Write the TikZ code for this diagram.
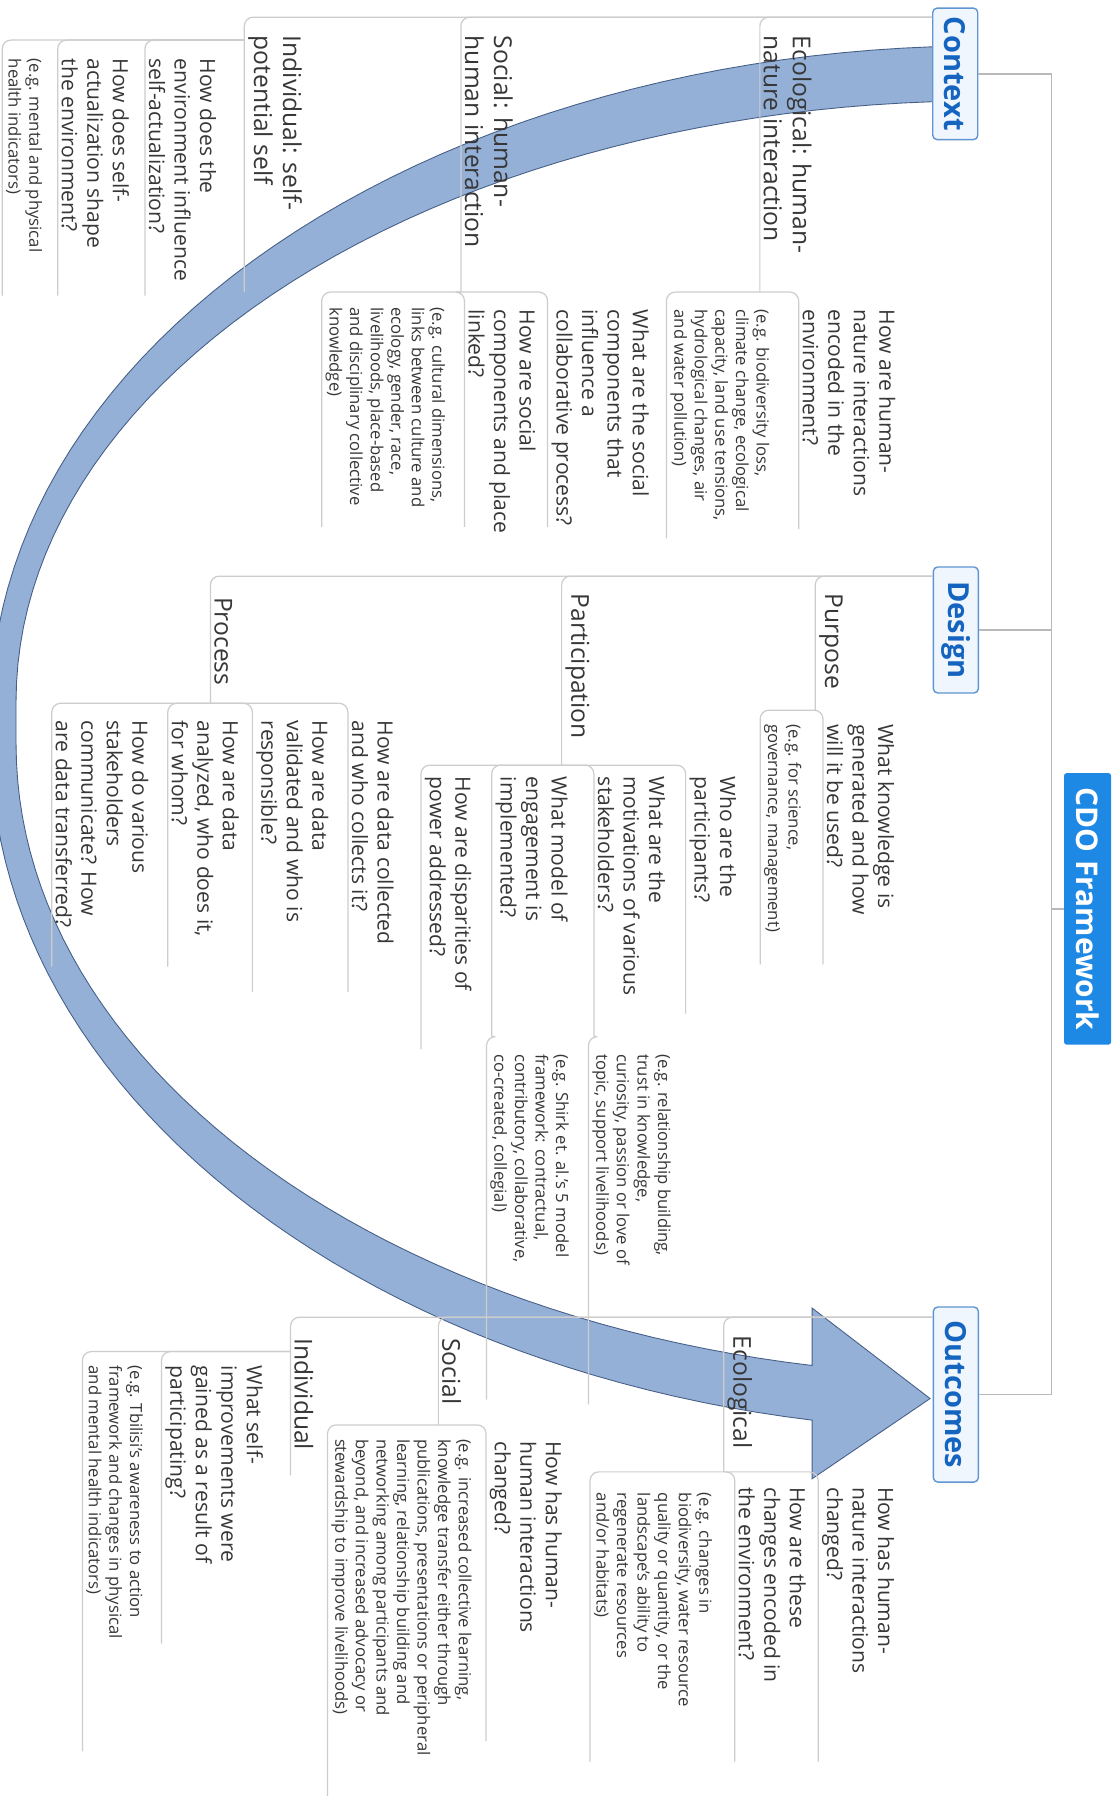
\documentclass[tikz,border=0pt]{standalone}
\usepackage{fontspec}
\setmainfont{Open Sans}
\usetikzlibrary{calc}
\definecolor{cdoblue}{RGB}{30,136,229}
\definecolor{boxline}{RGB}{95,150,210}
\definecolor{boxfill}{RGB}{240,246,253}
\definecolor{titleblue}{RGB}{21,101,192}
\definecolor{branchgray}{RGB}{205,205,205}
\definecolor{trunkgray}{RGB}{185,185,185}
\definecolor{arrowfill}{RGB}{148,176,214}
\definecolor{arrowline}{RGB}{70,95,135}
\definecolor{textgray}{RGB}{55,55,55}
\tikzset{
  topic/.style={rotate=-90, anchor=north west, align=left, inner xsep=0pt, inner ysep=2pt,
    text=textgray, font=\fontsize{14}{16.5}\selectfont},
  quest/.style={topic, font=\fontsize{12}{14.5}\selectfont},
  egtext/.style={topic, font=\fontsize{9.5}{11.7}\selectfont},
  mainbox/.style={rotate=-90, draw=boxline, line width=0.8pt, fill=boxfill, text=titleblue,
    rounded corners=2.5pt, minimum height=0.9cm, inner sep=0pt,
    font=\fontsize{16.5}{19}\selectfont\bfseries},
  rootbox/.style={rotate=-90, fill=cdoblue, text=white, rounded corners=1.5pt,
    minimum width=5.43cm, minimum height=0.94cm, inner sep=0pt,
    font=\fontsize{17}{20}\selectfont\bfseries},
  branch/.style={draw=branchgray, line width=0.7pt, rounded corners=5pt},
  trunk/.style={draw=trunkgray, line width=1pt}
}
\begin{document}
\begin{tikzpicture}[x=0.0229cm, y=-0.0229cm]
\useasboundingbox (0,0) rectangle (977,1568);
\fill[white] (0,0) rectangle (977,1568);
% curved arrow from Context round to Outcomes
\filldraw[fill=arrowfill, draw=arrowline, line width=0.5pt]
  plot[domain=267.03:180, samples=50] ({860+868*cos(\x)}, {620+580*sin(\x)})
  -- plot[domain=180:100.02, samples=50] ({860+868*cos(\x)}, {650+599*sin(\x)})
  -- (709,1291) -- (812,1221) -- (709,1142)
  -- plot[domain=100.28:180, samples=50] ({860+846*cos(\x)}, {650+551*sin(\x)})
  -- plot[domain=180:266.95, samples=50] ({860+846*cos(\x)}, {612+524*sin(\x)})
  -- cycle;

\node[rootbox] (root) at (949.5,793.5) {CDO Framework};
\node[mainbox, minimum width=2.63cm] (ctx) at (834,64.5) {Context};
\node[mainbox, minimum width=2.52cm] (dsg) at (834.5,550) {Design};
\node[mainbox, minimum width=3.5cm] (outc) at (834.5,1217.5) {Outcomes};

% context
\node[topic] (cEco) at (712,31) {Ecological: human-\\nature interaction};
\node[quest] (cEcoQ) at (785,270) {How are human-\\nature interactions\\encoded in the\\environment?};
\node[egtext] (cEcoEg) at (675,270) {(e.g. biodiversity loss,\\climate change, ecological\\capacity, land use tensions,\\hydrological changes, air\\and water pollution)};
\node[topic] (cSoc) at (451,31) {Social: human-\\human interaction};
\node[quest] (cSocQ1) at (570,270) {What are the social\\components that\\influence a\\collaborative process?};
\node[quest] (cSocQ2) at (471,270) {How are social\\components and place\\linked?};
\node[egtext] (cSocEg) at (392,268) {(e.g. cultural dimensions,\\links between culture and\\ecology, gender, race,\\livelihoods, place-based\\and disciplinary collective\\knowledge)};
\node[topic] (cInd) at (267,31) {Individual: self-\\potential self};
\node[quest] (cIndQ1) at (192,51) {How does the\\environment influence\\self-actualization?};
\node[quest] (cIndQ2) at (116,51) {How does self-\\actualization shape\\the environment?};
\node[egtext] (cIndEg) at (40,51) {(e.g. mental and physical\\health indicators)};

% design
\node[topic] (dPur) at (739,518) {Purpose};
\node[quest] (dPurQ) at (784,632) {What knowledge is\\generated and how\\will it be used?};
\node[egtext] (dPurEg) at (703,632) {(e.g. for science,\\governance, management)};
\node[topic] (dPar) at (518,518) {Participation};
\node[quest] (dParQ1) at (646,678) {Who are the\\participants?};
\node[quest] (dParQ2) at (584,678) {What are the\\motivations of various\\stakeholders?};
\node[egtext] (dParQ2Eg) at (589,920) {(e.g. relationship building,\\trust in knowledge,\\curiosity, passion or love of\\topic, support livelihoods)};
\node[quest] (dParQ3) at (499,678) {What model of\\engagement is\\implemented?};
\node[egtext] (dParQ3Eg) at (500,920) {(e.g. Shirk et. al.'s 5 model\\framework: contractual,\\contributory, collaborative,\\co-created, collegial)};
\node[quest] (dParQ4) at (415,678) {How are disparities of\\power addressed?};
\node[topic] (dPro) at (206,521) {Process};
\node[quest] (dProQ1) at (347,629) {How are data collected\\and who collects it?};
\node[quest] (dProQ2) at (290,629) {How are data\\validated and who is\\responsible?};
\node[quest] (dProQ3) at (212,629) {How are data\\analyzed, who does it,\\for whom?};
\node[quest] (dProQ4) at (133,629) {How do various\\stakeholders\\communicate? How\\are data transferred?};

% outcomes
\node[topic] (oEco) at (660,1166) {Ecological};
\node[quest] (oEcoQ1) at (784,1298) {How has human-\\nature interactions\\changed?};
\node[quest] (oEcoQ2) at (707,1298) {How are these\\changes encoded in\\the environment?};
\node[egtext] (oEcoEg) at (625,1303) {(e.g. changes in\\biodiversity, water resource\\quality or quantity, or the\\landscape's ability to\\regenerate resources\\and/or habitats)};
\node[topic] (oSoc) at (406,1168) {Social};
\node[quest] (oSocQ) at (494,1258) {How has human-\\human interactions\\changed?};
\node[egtext] (oSocEg) at (415,1256) {(e.g. increased collective learning,\\knowledge transfer either through\\publications, presentations or peripheral\\learning, relationship building and\\networking among participants and\\beyond, and increased advocacy or\\stewardship to improve livelihoods)};
\node[topic] (oInd) at (277,1168) {Individual};
\node[quest] (oIndQ) at (233,1192) {What self-\\improvements were\\gained as a result of\\participating?};
\node[egtext] (oIndEg) at (128,1192) {(e.g. Tbilisi's awareness to action\\framework and changes in physical\\and mental health indicators)};

% branch points
\coordinate (ctxL) at (ctx.south west |- 0,15);
\coordinate (dsgL) at (dsg.south west |- 0,503);
\coordinate (outL) at (outc.south west |- 0,1150);
\coordinate (cEcoS) at (cEco.south |- 0,255);
\coordinate (cSocS) at (cSoc.south |- 0,255);
\coordinate (cIndS) at (cInd.south |- 0,35);
\coordinate (cIndE) at (cInd.south |- 0,255);
\coordinate (dPurS) at (dPur.south |- 0,620);
\coordinate (dParS) at (dPar.south |- 0,668);
\coordinate (dParQ2S) at (dParQ2.south |- 0,905);
\coordinate (dParQ3S) at (dParQ3.south |- 0,905);
\coordinate (dProS) at (dPro.south |- 0,614);
\coordinate (oEcoS) at (oEco.south |- 0,1285);
\coordinate (oSocS) at (oSoc.south |- 0,1244);
\coordinate (oIndS) at (oInd.south |- 0,1180);
\coordinate (oIndE) at (oInd.south |- 0,1288);
\coordinate (trunk) at (918,793.5);

\foreach \p/\c in {ctxL/cEcoS, ctxL/cSocS, ctxL/cIndE, dsgL/dPurS, dsgL/dParS, dsgL/dProS,
  dParS/dParQ2S, dParS/dParQ3S, outL/oEcoS, outL/oSocS, outL/oIndE}
  \draw[branch] (\p) -| (\c);
\foreach \p/\c/\l in {cEcoS/cEcoQ/192, cEcoS/cEcoEg/200, cSocS/cSocQ1/190, cSocS/cSocQ2/190,
  cSocS/cSocEg/192, cIndS/cIndQ1/207, cIndS/cIndQ2/207, cIndS/cIndEg/207,
  dPurS/dPurQ/210, dPurS/dPurEg/210, dParS/dParQ1/207, dParS/dParQ4/238,
  dParQ2S/dParQ2Eg/306, dParQ3S/dParQ3Eg/302, dProS/dProQ1/237, dProS/dProQ2/237,
  dProS/dProQ3/215, dProS/dProQ4/215, oEcoS/oEcoQ1/240, oEcoS/oEcoQ2/240,
  oEcoS/oEcoEg/235, oSocS/oSocQ/262, oSocS/oSocEg/330, oIndS/oIndQ/243, oIndS/oIndEg/337}
  \draw[branch] (\p) -| ($(\c.south west)+(0,\l)$);

\draw[trunk] (root.south) -- (trunk);
\foreach \b in {ctx, dsg, outc}
  \draw[trunk] (\b.north) -| (trunk);
\end{tikzpicture}
\end{document}
